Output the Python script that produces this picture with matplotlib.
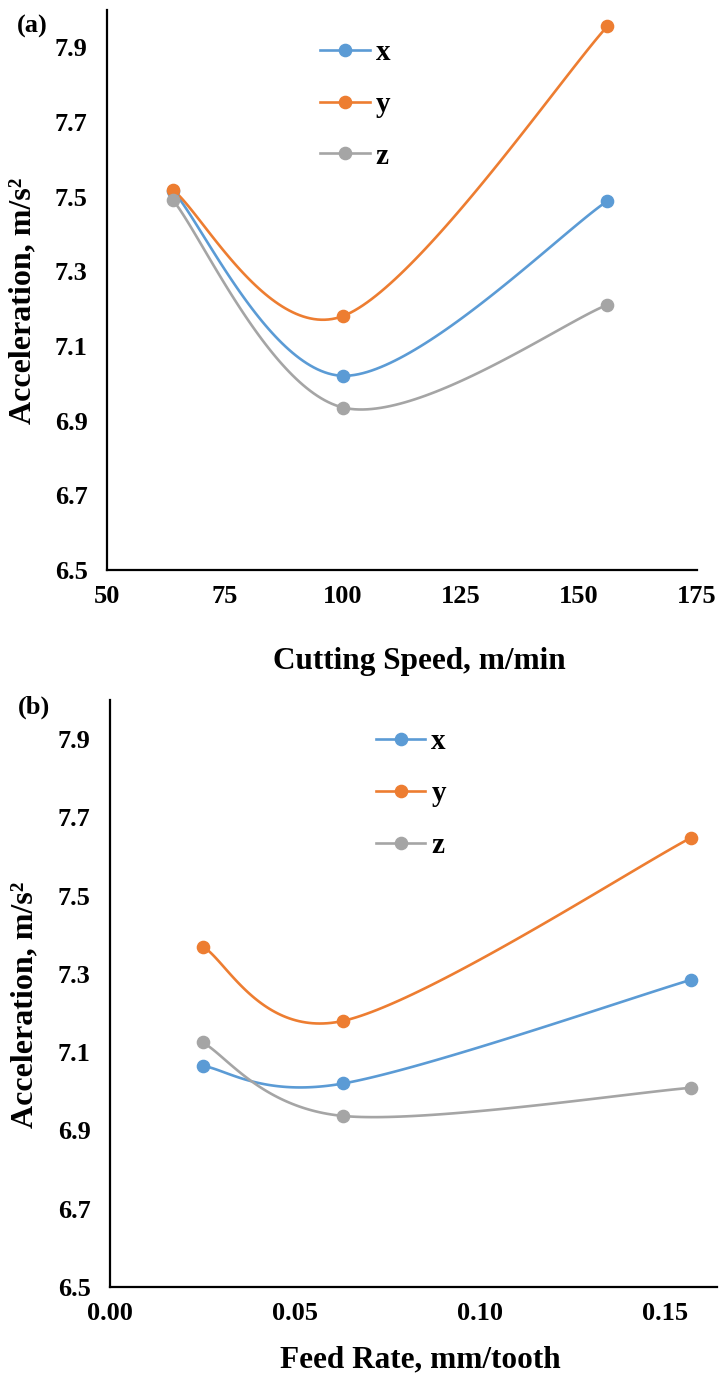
import numpy as np
import matplotlib
matplotlib.use('Agg')
from matplotlib import pyplot as plt

# panel (a): cutting speed, m/min
speed = [64, 100, 156]
speed_x = [7.515, 7.02, 7.488]
speed_y = [7.517, 7.18, 7.956]
speed_z = [7.49, 6.935, 7.21]

# panel (b): feed rate, mm/tooth
feed = [0.025, 0.063, 0.157]
feed_x = [7.065, 7.02, 7.285]
feed_y = [7.37, 7.18, 7.648]
feed_z = [7.125, 6.937, 7.009]

labels = ['x', 'y', 'z']
colors = ['#5B9BD5', '#ED7D31', '#A5A5A5']
yticks = [6.5, 6.7, 6.9, 7.1, 7.3, 7.5, 7.7, 7.9]

plt.rcParams['font.family'] = ['Liberation Serif', 'DejaVu Serif']
plt.rcParams['font.weight'] = 'bold'


def smooth(xs, ys, n=60):
    # excel style smoothed line, bezier segments with catmull-rom control points
    p = np.column_stack([xs, ys]).astype(float)
    pts = np.vstack([p[0], p, p[-1]])
    t = np.linspace(0, 1, n)[:, None]
    out = []
    for i in range(1, len(pts) - 2):
        p0, p1, p2, p3 = pts[i - 1], pts[i], pts[i + 1], pts[i + 2]
        c1 = p1 + (p2 - p0) / 6
        c2 = p2 - (p3 - p1) / 6
        out.append((1 - t) ** 3 * p1 + 3 * (1 - t) ** 2 * t * c1 + 3 * (1 - t) * t ** 2 * c2 + t ** 3 * p2)
    out = np.vstack(out)
    return out[:, 0], out[:, 1]


def panel(ax, xv, series, xlim, xticks, xticklabels, xlabel, xlabel_pos, legend_pos):
    handles = []
    for ys, c, lab in zip(series, colors, labels):
        sx, sy = smooth(xv, ys)
        ax.plot(sx, sy, color=c, lw=1.9, zorder=2)
        ax.plot(xv, ys, 'o', color=c, ms=8.8, zorder=3)
        h, = ax.plot([], [], '-o', color=c, lw=1.9, ms=8.8, label=lab)
        handles.append(h)
    ax.set_xlim(*xlim)
    ax.set_ylim(6.5, 8.0)
    ax.set_xticks(xticks)
    ax.set_xticklabels(xticklabels)
    ax.set_yticks(yticks)
    ax.set_yticklabels([f'{v:.1f}' for v in yticks])
    ax.tick_params(length=0, labelsize=19)
    ax.tick_params(axis='x', pad=11)
    ax.tick_params(axis='y', pad=14)
    for s in ['top', 'right']:
        ax.spines[s].set_visible(False)
    for s in ['left', 'bottom']:
        ax.spines[s].set_linewidth(1.6)
    ax.set_xlabel(xlabel, fontsize=22.5, fontweight='bold')
    ax.xaxis.set_label_coords(*xlabel_pos)
    ax.set_ylabel('Acceleration, m/s²', fontsize=23, fontweight='bold')
    ax.legend(handles=handles, loc='upper left', bbox_to_anchor=legend_pos, frameon=False,
              fontsize=21, handlelength=1.7, handletextpad=0.2, labelspacing=0.85,
              borderpad=0, borderaxespad=0)


fig = plt.figure(figsize=(7.25, 13.76), dpi=100)
ax1 = fig.add_axes([0.1476, 0.5858, 0.8138, 0.4070])
ax2 = fig.add_axes([0.1517, 0.0647, 0.8372, 0.4266])

panel(ax1, speed, [speed_x, speed_y, speed_z], (50, 175), [50, 75, 100, 125, 150, 175],
      ['50', '75', '100', '125', '150', '175'], 'Cutting Speed, m/min',
      (0.529, -0.1375), (0.361, 0.948))
panel(ax2, feed, [feed_x, feed_y, feed_z], (0, 0.164), [0, 0.05, 0.10, 0.15],
      ['0.00', '0.05', '0.10', '0.15'], 'Feed Rate, mm/tooth',
      (0.512, -0.0988), (0.438, 0.952))

ax1.yaxis.set_label_coords(-0.118, 0.48)
ax2.yaxis.set_label_coords(-0.116, 0.48)

fig.text(17 / 725, 1 - 15 / 1376, '(a)', fontsize=19, fontweight='bold', ha='left', va='top')
fig.text(18 / 725, 1 - 696 / 1376, '(b)', fontsize=19, fontweight='bold', ha='left', va='top')

fig.savefig('out.png', dpi=100)
